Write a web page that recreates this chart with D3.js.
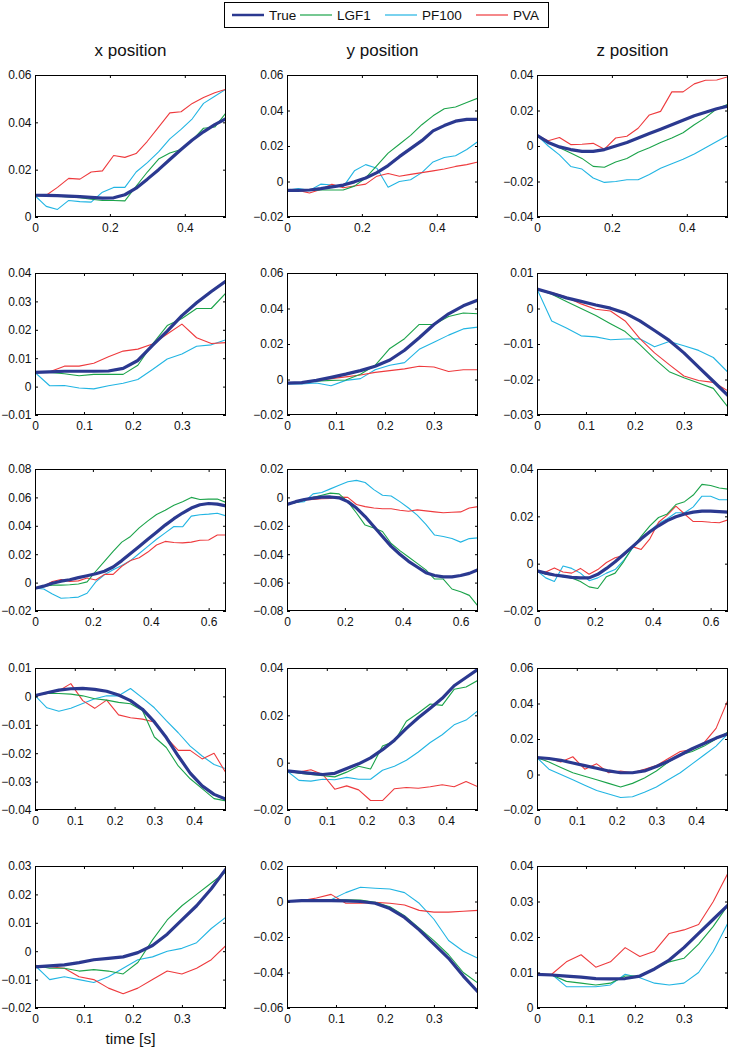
<!DOCTYPE html>
<html>
<head>
<meta charset="utf-8">
<script src="https://cdn.jsdelivr.net/npm/d3@7"></script>
<style>
  body { margin: 0; background: #fff; }
  svg { display: block; font-family: "Liberation Sans", Arial, sans-serif; }
</style>
</head>
<body>
<div id="chart"></div>
<script>
// time grids (s) for each row of panels
const t1 = [0, 0.03, 0.06, 0.09, 0.12, 0.15, 0.18, 0.21, 0.24, 0.27, 0.30, 0.33, 0.36, 0.39, 0.42, 0.45, 0.48, 0.51];
const t2 = [0, 0.03, 0.06, 0.09, 0.12, 0.15, 0.18, 0.21, 0.24, 0.27, 0.30, 0.33, 0.36, 0.39];
const t3 = [0, 0.03, 0.06, 0.09, 0.12, 0.15, 0.18, 0.21, 0.24, 0.27, 0.30, 0.33, 0.36, 0.39, 0.42, 0.45, 0.48, 0.51, 0.54, 0.57, 0.60, 0.63, 0.66];
const t4 = [0, 0.03, 0.06, 0.09, 0.12, 0.15, 0.18, 0.21, 0.24, 0.27, 0.30, 0.33, 0.36, 0.39, 0.42, 0.45, 0.48];
const t5 = [0, 0.03, 0.06, 0.09, 0.12, 0.15, 0.18, 0.21, 0.24, 0.27, 0.30, 0.33, 0.36, 0.39];

const seriesNames = ["True", "LGF1", "PF100", "PVA"];
const columnTitles = ["x position", "y position", "z position"];

// row 1
const r1xTrue = [0.0092, 0.0091, 0.0090, 0.0088, 0.0086, 0.0083, 0.0080, 0.0081, 0.0094, 0.0122, 0.0160, 0.0200, 0.0243, 0.0285, 0.0325, 0.0360, 0.0390, 0.0415];
const r1xLgf = [0.009, 0.009, 0.0088, 0.0085, 0.0082, 0.0075, 0.007, 0.007, 0.0068, 0.013, 0.019, 0.0245, 0.027, 0.0285, 0.0325, 0.0375, 0.038, 0.044];
const r1xPf = [0.009, 0.0045, 0.0032, 0.007, 0.0065, 0.0063, 0.0105, 0.0125, 0.0125, 0.019, 0.023, 0.0275, 0.033, 0.037, 0.0415, 0.048, 0.051, 0.054];
const r1xPva = [0.009, 0.0092, 0.0125, 0.0163, 0.016, 0.019, 0.0195, 0.026, 0.0252, 0.0268, 0.032, 0.038, 0.044, 0.0445, 0.048, 0.0505, 0.0525, 0.054];

const r1yTrue = [-0.005, -0.005, -0.0048, -0.004, -0.003, -0.002, -0.0002, 0.002, 0.005, 0.009, 0.014, 0.0185, 0.023, 0.0285, 0.0315, 0.034, 0.035, 0.035];
const r1yLgf = [-0.005, -0.005, -0.005, -0.0048, -0.0048, -0.0048, -0.0026, 0.002, 0.009, 0.016, 0.021, 0.026, 0.032, 0.037, 0.041, 0.042, 0.0445, 0.047];
const r1yPf = [-0.005, -0.004, -0.005, -0.0015, -0.002, -0.003, 0.006, 0.0095, 0.0075, -0.0032, 0.0, 0.001, 0.005, 0.011, 0.0135, 0.0145, 0.018, 0.0225];
const r1yPva = [-0.005, -0.005, -0.0065, -0.0045, -0.0015, -0.0035, -0.0025, -0.0015, 0.003, 0.0045, 0.003, 0.004, 0.005, 0.006, 0.007, 0.0085, 0.0095, 0.011];

const r1zTrue = [0.006, 0.002, -0.0005, -0.002, -0.003, -0.003, -0.002, 0.0, 0.002, 0.0045, 0.007, 0.0095, 0.012, 0.0145, 0.017, 0.019, 0.021, 0.0225];
const r1zLgf = [0.006, 0.002, -0.001, -0.004, -0.007, -0.0115, -0.012, -0.009, -0.007, -0.0035, -0.001, 0.002, 0.0045, 0.0075, 0.012, 0.016, 0.021, 0.0235];
const r1zPf = [0.006, 0.0, -0.005, -0.0115, -0.013, -0.018, -0.0205, -0.020, -0.019, -0.019, -0.016, -0.0125, -0.010, -0.0075, -0.0045, -0.001, 0.0025, 0.006];
const r1zPva = [0.006, 0.003, 0.0048, 0.0008, 0.001, 0.0015, -0.0018, 0.0045, 0.0055, 0.010, 0.0175, 0.0195, 0.0305, 0.0305, 0.035, 0.037, 0.0372, 0.039];

// row 2
const r2xTrue = [0.005, 0.0052, 0.0054, 0.0054, 0.0054, 0.0055, 0.0064, 0.0092, 0.0145, 0.0195, 0.025, 0.0295, 0.0335, 0.0372];
const r2xLgf = [0.005, 0.005, 0.0045, 0.0038, 0.0043, 0.0043, 0.0043, 0.0075, 0.015, 0.0215, 0.024, 0.0275, 0.0275, 0.033];
const r2xPf = [0.005, 0.0003, 0.0004, -0.0005, -0.0008, 0.0003, 0.0012, 0.0025, 0.006, 0.0097, 0.0115, 0.0142, 0.0147, 0.0165];
const r2xPva = [0.005, 0.0052, 0.0072, 0.0072, 0.0082, 0.0105, 0.0125, 0.0132, 0.015, 0.0185, 0.022, 0.0172, 0.0152, 0.0155];

const r2yTrue = [-0.002, -0.0018, -0.0005, 0.0012, 0.003, 0.005, 0.0075, 0.011, 0.0165, 0.0235, 0.031, 0.037, 0.0415, 0.0448];
const r2yLgf = [-0.002, -0.0018, -0.001, -0.0005, -0.0003, 0.003, 0.008, 0.0175, 0.023, 0.031, 0.031, 0.0355, 0.0375, 0.037];
const r2yPf = [-0.0025, -0.0025, -0.002, -0.0035, -0.0005, 0.0005, 0.0055, 0.008, 0.0095, 0.017, 0.021, 0.025, 0.0285, 0.0295];
const r2yPva = [-0.002, -0.0018, -0.0005, 0.0005, 0.0015, 0.0025, 0.004, 0.005, 0.006, 0.0075, 0.007, 0.0045, 0.0055, 0.0055];

const r2zTrue = [0.0055, 0.0043, 0.003, 0.002, 0.001, 0.0001, -0.0013, -0.0035, -0.0062, -0.009, -0.0125, -0.0165, -0.0205, -0.0245];
const r2zLgf = [0.0055, 0.004, 0.002, 0.0, -0.002, -0.0043, -0.0065, -0.0102, -0.0142, -0.0178, -0.0195, -0.021, -0.0225, -0.0278];
const r2zPf = [0.0055, -0.0035, -0.0055, -0.0077, -0.008, -0.0088, -0.0086, -0.0085, -0.0108, -0.0093, -0.0105, -0.0118, -0.0138, -0.018];
const r2zPva = [0.0055, 0.0045, 0.0032, 0.0013, -0.0002, -0.0007, -0.0035, -0.0085, -0.0125, -0.0158, -0.019, -0.0203, -0.0208, -0.0232];

// row 3
const r3xTrue = [-0.004, -0.0025, -0.0005, 0.001, 0.002, 0.0035, 0.0048, 0.0062, 0.008, 0.011, 0.0155, 0.0205, 0.0255, 0.0305, 0.0355, 0.0405, 0.045, 0.049, 0.0525, 0.0548, 0.0557, 0.0553, 0.054];
const r3xLgf = [-0.004, -0.0025, -0.0018, -0.0018, -0.0015, -0.001, 0.0005, 0.008, 0.015, 0.022, 0.0285, 0.0325, 0.0385, 0.0435, 0.048, 0.051, 0.0545, 0.057, 0.060, 0.0585, 0.0588, 0.0588, 0.0565];
const r3xPf = [-0.004, -0.0045, -0.008, -0.011, -0.0107, -0.0102, -0.0075, 0.0005, 0.0055, 0.009, 0.012, 0.0155, 0.0205, 0.0255, 0.0305, 0.035, 0.0395, 0.0393, 0.0468, 0.0478, 0.0482, 0.0488, 0.047];
const r3xPva = [-0.004, -0.0025, 0.0008, 0.0022, 0.0008, 0.0012, 0.0032, 0.0018, 0.0058, 0.0058, 0.0115, 0.0155, 0.0175, 0.0215, 0.0265, 0.029, 0.0282, 0.028, 0.0285, 0.0298, 0.030, 0.0335, 0.0335];

const r3yTrue = [-0.005, -0.003, -0.0015, -0.0005, 0.0002, 0.0003, -0.0003, -0.003, -0.0075, -0.0135, -0.0205, -0.0275, -0.0345, -0.040, -0.045, -0.049, -0.053, -0.055, -0.056, -0.056, -0.055, -0.0535, -0.051];
const r3yLgf = [-0.005, -0.0035, -0.002, 0.0, 0.0015, 0.003, 0.0025, -0.003, -0.011, -0.0195, -0.0215, -0.024, -0.0325, -0.0375, -0.042, -0.0465, -0.051, -0.0575, -0.0575, -0.0645, -0.0665, -0.069, -0.0765];
const r3yPf = [-0.005, -0.0035, -0.003, 0.0025, 0.0035, 0.006, 0.0085, 0.011, 0.012, 0.0105, 0.0055, 0.0015, 0.001, -0.003, -0.0075, -0.0125, -0.019, -0.0265, -0.0275, -0.029, -0.0315, -0.029, -0.0285];
const r3yPva = [-0.005, -0.0035, -0.0018, -0.0015, -0.001, -0.0008, 0.0002, 0.0, -0.005, -0.0065, -0.0075, -0.008, -0.008, -0.009, -0.0098, -0.0088, -0.0095, -0.0102, -0.0108, -0.0105, -0.0102, -0.0075, -0.0065];

const r3zTrue = [-0.003, -0.004, -0.0048, -0.0053, -0.0058, -0.006, -0.006, -0.0045, -0.002, 0.0008, 0.004, 0.0072, 0.0105, 0.0135, 0.016, 0.0182, 0.0198, 0.021, 0.0218, 0.0222, 0.0222, 0.022, 0.0218];
const r3zLgf = [-0.003, -0.0045, -0.005, -0.0055, -0.006, -0.0075, -0.0098, -0.0105, -0.0055, -0.004, 0.001, 0.0068, 0.0115, 0.016, 0.0195, 0.021, 0.025, 0.0262, 0.029, 0.0335, 0.033, 0.032, 0.0315];
const r3zPf = [-0.003, -0.006, -0.0075, -0.001, -0.002, -0.004, -0.0072, -0.006, -0.004, -0.0025, 0.0015, 0.0065, 0.0105, 0.0138, 0.017, 0.019, 0.0215, 0.0215, 0.024, 0.0285, 0.0285, 0.027, 0.027];
const r3zPva = [-0.003, -0.0035, -0.0018, -0.0035, -0.004, -0.002, -0.0045, -0.0025, 0.0005, 0.0025, 0.0035, 0.0072, 0.006, 0.0105, 0.0175, 0.0205, 0.0243, 0.021, 0.0178, 0.0178, 0.0175, 0.0173, 0.0185];

// row 4
const r4xTrue = [0.0003, 0.0013, 0.0022, 0.0027, 0.0028, 0.0025, 0.0018, 0.0005, -0.0015, -0.0045, -0.009, -0.0145, -0.021, -0.027, -0.0315, -0.0345, -0.0362];
const r4xLgf = [0.0005, 0.001, 0.001, 0.0008, 0.0002, -0.0008, -0.0013, -0.0021, -0.0026, -0.005, -0.0143, -0.018, -0.0245, -0.029, -0.0325, -0.036, -0.0368];
const r4xPf = [0.0003, -0.004, -0.0052, -0.0042, -0.0025, -0.0008, 0.0002, 0.0002, 0.0028, -0.0005, -0.004, -0.0085, -0.0128, -0.0175, -0.021, -0.024, -0.0255];
const r4xPva = [0.0003, 0.001, 0.002, 0.0045, -0.0015, -0.0042, -0.0013, -0.0065, -0.0075, -0.008, -0.009, -0.0145, -0.019, -0.019, -0.022, -0.020, -0.027];

const r4yTrue = [-0.0035, -0.004, -0.0045, -0.005, -0.0045, -0.0025, -0.0005, 0.002, 0.0055, 0.0095, 0.0145, 0.019, 0.023, 0.0272, 0.0325, 0.036, 0.0395];
const r4yLgf = [-0.0035, -0.0045, -0.005, -0.0055, -0.006, -0.004, -0.0015, -0.0027, 0.007, 0.009, 0.0175, 0.021, 0.0248, 0.0242, 0.031, 0.032, 0.0348];
const r4yPf = [-0.0035, -0.0075, -0.0078, -0.007, -0.0072, -0.0062, -0.007, -0.007, -0.0032, -0.0015, 0.001, 0.0045, 0.0085, 0.0118, 0.016, 0.018, 0.022];
const r4yPva = [-0.0035, -0.004, -0.003, -0.005, -0.0112, -0.0098, -0.0115, -0.016, -0.016, -0.011, -0.0105, -0.0108, -0.0102, -0.0093, -0.0102, -0.008, -0.0102];

const r4zTrue = [0.0095, 0.009, 0.008, 0.0065, 0.005, 0.0035, 0.002, 0.001, 0.001, 0.002, 0.0045, 0.0075, 0.011, 0.0145, 0.0175, 0.0205, 0.023];
const r4zLgf = [0.0095, 0.007, 0.004, 0.001, -0.001, -0.003, -0.005, -0.007, -0.005, -0.002, 0.002, 0.007, 0.011, 0.013, 0.016, 0.020, 0.024];
const r4zPf = [0.0095, 0.003, 0.0, -0.003, -0.006, -0.009, -0.011, -0.013, -0.0125, -0.010, -0.007, -0.003, 0.001, 0.006, 0.011, 0.016, 0.023];
const r4zPva = [0.0095, 0.009, 0.007, 0.010, 0.003, 0.006, 0.001, 0.002, 0.001, 0.003, 0.005, 0.009, 0.013, 0.014, 0.018, 0.026, 0.042];

// row 5
const r5xTrue = [-0.0055, -0.0052, -0.0048, -0.004, -0.003, -0.0025, -0.002, -0.0005, 0.002, 0.006, 0.011, 0.016, 0.022, 0.029];
const r5xLgf = [-0.005, -0.006, -0.006, -0.007, -0.0065, -0.007, -0.008, -0.004, 0.004, 0.011, 0.016, 0.020, 0.024, 0.028];
const r5xPf = [-0.005, -0.010, -0.009, -0.010, -0.011, -0.009, -0.006, -0.003, -0.002, 0.0, 0.001, 0.003, 0.008, 0.012];
const r5xPva = [-0.005, -0.0055, -0.006, -0.009, -0.010, -0.013, -0.015, -0.013, -0.010, -0.007, -0.008, -0.006, -0.003, 0.002];

const r5yTrue = [0.0, 0.0005, 0.0005, 0.0005, 0.0003, 0.0, -0.001, -0.004, -0.009, -0.016, -0.024, -0.032, -0.042, -0.051];
const r5yLgf = [0.0, 0.0005, 0.0005, 0.001, 0.001, 0.0008, -0.0005, -0.003, -0.008, -0.015, -0.022, -0.030, -0.040, -0.046];
const r5yPf = [0.0, 0.0, 0.0, 0.001, 0.005, 0.008, 0.0075, 0.007, 0.005, -0.001, -0.010, -0.022, -0.028, -0.032];
const r5yPva = [0.0, 0.0005, 0.002, 0.004, -0.001, -0.001, -0.0005, -0.001, -0.002, -0.005, -0.006, -0.006, -0.0055, -0.005];

const r5zTrue = [0.0095, 0.0093, 0.009, 0.0087, 0.0083, 0.0082, 0.0083, 0.009, 0.011, 0.0135, 0.017, 0.021, 0.025, 0.029];
const r5zLgf = [0.0095, 0.0093, 0.0075, 0.007, 0.0065, 0.007, 0.009, 0.009, 0.011, 0.013, 0.014, 0.018, 0.023, 0.029];
const r5zPf = [0.0095, 0.0095, 0.006, 0.006, 0.006, 0.0065, 0.0095, 0.0085, 0.007, 0.0065, 0.007, 0.010, 0.016, 0.024];
const r5zPva = [0.0095, 0.0095, 0.013, 0.015, 0.0115, 0.013, 0.017, 0.0145, 0.016, 0.021, 0.022, 0.0235, 0.030, 0.038];

// axis ranges and ticks
const rowTimeMax = [0.51, 0.39, 0.66, 0.48, 0.39];
const rowTimeTicks = [[0, 0.2, 0.4], [0, 0.1, 0.2, 0.3], [0, 0.2, 0.4, 0.6], [0, 0.1, 0.2, 0.3, 0.4], [0, 0.1, 0.2, 0.3]];
const yDomains = [
  [[0, 0.06], [-0.02, 0.06], [-0.04, 0.04]],
  [[-0.01, 0.04], [-0.02, 0.06], [-0.03, 0.01]],
  [[-0.02, 0.08], [-0.08, 0.02], [-0.02, 0.04]],
  [[-0.04, 0.01], [-0.02, 0.04], [-0.02, 0.06]],
  [[-0.02, 0.03], [-0.06, 0.02], [0, 0.04]]
];
const yTickSteps = [
  [0.02, 0.02, 0.02],
  [0.01, 0.02, 0.01],
  [0.02, 0.02, 0.02],
  [0.01, 0.02, 0.02],
  [0.01, 0.02, 0.01]
];

const times = [t1, t2, t3, t4, t5];
const panelData = [
  [[r1xTrue, r1xLgf, r1xPf, r1xPva], [r1yTrue, r1yLgf, r1yPf, r1yPva], [r1zTrue, r1zLgf, r1zPf, r1zPva]],
  [[r2xTrue, r2xLgf, r2xPf, r2xPva], [r2yTrue, r2yLgf, r2yPf, r2yPva], [r2zTrue, r2zLgf, r2zPf, r2zPva]],
  [[r3xTrue, r3xLgf, r3xPf, r3xPva], [r3yTrue, r3yLgf, r3yPf, r3yPva], [r3zTrue, r3zLgf, r3zPf, r3zPva]],
  [[r4xTrue, r4xLgf, r4xPf, r4xPva], [r4yTrue, r4yLgf, r4yPf, r4yPva], [r4zTrue, r4zLgf, r4zPf, r4zPva]],
  [[r5xTrue, r5xLgf, r5xPf, r5xPva], [r5yTrue, r5yLgf, r5yPf, r5yPva], [r5zTrue, r5zLgf, r5zPf, r5zPva]]
];

const colors = ["#2b3990", "#1ba34a", "#22b5e3", "#ee3a3d"];
const widths = [3.2, 1.1, 1.1, 1.1];
const drawOrder = [2, 3, 1, 0]; // thick True line on top

const width = 729, height = 1050;
const colLeft = [35, 287, 537], colW = 191;
const rowTop = [75, 273, 469, 668, 866], rowH = 142;
const tickLen = 3;
const font = '"Liberation Sans", Arial, sans-serif';
const tickFont = 12;

const fmt = v => {
  if (Math.abs(v) < 1e-9) return "0";
  const s = d3.format(".2~f")(Math.abs(v));
  return (v < 0 ? "\u2212" : "") + s;
};

const svg = d3.select("#chart").append("svg")
  .attr("width", width)
  .attr("height", height)
  .attr("viewBox", [0, 0, width, height]);

// legend
const legend = svg.append("g");
legend.append("rect")
  .attr("x", 224.5).attr("y", 2.5)
  .attr("width", 324).attr("height", 25)
  .attr("fill", "#fff").attr("stroke", "#000").attr("stroke-width", 1);
const legX = [232, 300, 385, 476];
seriesNames.forEach((name, i) => {
  legend.append("line")
    .attr("x1", legX[i]).attr("x2", legX[i] + 32)
    .attr("y1", 15).attr("y2", 15)
    .attr("stroke", colors[i]).attr("stroke-width", i === 0 ? 2.5 : 1.2);
  legend.append("text")
    .attr("x", legX[i] + 37).attr("y", 19.5)
    .attr("font-size", 13.5).attr("fill", "#111")
    .text(name);
});

// column titles
columnTitles.forEach((t, c) => {
  svg.append("text")
    .attr("x", colLeft[c] + colW / 2).attr("y", 56)
    .attr("text-anchor", "middle")
    .attr("font-size", 17).attr("fill", "#111")
    .text(t);
});

times.forEach((tt, r) => {
  for (let c = 0; c < 3; c++) {
    const x = d3.scaleLinear([0, rowTimeMax[r]], [colLeft[c], colLeft[c] + colW]);
    const y = d3.scaleLinear(yDomains[r][c], [rowTop[r] + rowH, rowTop[r]]);
    const [y0, y1] = yDomains[r][c];
    const step = yTickSteps[r][c];
    const yTicks = d3.range(Math.round((y1 - y0) / step) + 1).map(k => +(y0 + k * step).toFixed(4));

    const g = svg.append("g");

    // clip so lines stay inside the box
    const clipId = `clip-${r}-${c}`;
    g.append("clipPath").attr("id", clipId)
      .append("rect")
      .attr("x", colLeft[c]).attr("y", rowTop[r])
      .attr("width", colW).attr("height", rowH);

    const line = d3.line().x((d, i) => x(tt[i])).y(d => y(d));
    const lines = g.append("g").attr("clip-path", `url(#${clipId})`);
    drawOrder.forEach(s => {
      lines.append("path")
        .attr("d", line(panelData[r][c][s]))
        .attr("fill", "none")
        .attr("stroke", colors[s])
        .attr("stroke-width", widths[s])
        .attr("stroke-linejoin", "round");
    });

    // axes: bottom and left with labels, inward ticks, top/right mirror ticks
    g.append("g")
      .attr("transform", `translate(0,${rowTop[r] + rowH})`)
      .call(d3.axisBottom(x).tickValues(rowTimeTicks[r]).tickFormat(d => d === 0 ? "0" : d3.format(".1f")(d)).tickSizeInner(-tickLen).tickSizeOuter(0).tickPadding(6))
      .attr("font-family", font).attr("font-size", tickFont)
      .call(a => a.select(".domain").remove())
      .call(a => a.selectAll("text").attr("fill", "#111"))
      .call(a => a.selectAll("line").attr("stroke", "#000"));
    g.append("g")
      .attr("transform", `translate(0,${rowTop[r]})`)
      .call(d3.axisTop(x).tickValues(rowTimeTicks[r]).tickFormat("").tickSizeInner(-tickLen).tickSizeOuter(0))
      .call(a => a.select(".domain").remove());
    g.append("g")
      .attr("transform", `translate(${colLeft[c]},0)`)
      .call(d3.axisLeft(y).tickValues(yTicks).tickFormat(fmt).tickSizeInner(-tickLen).tickSizeOuter(0).tickPadding(3.5))
      .attr("font-family", font).attr("font-size", tickFont)
      .call(a => a.select(".domain").remove())
      .call(a => a.selectAll("text").attr("fill", "#111"))
      .call(a => a.selectAll("line").attr("stroke", "#000"));
    g.append("g")
      .attr("transform", `translate(${colLeft[c] + colW},0)`)
      .call(d3.axisRight(y).tickValues(yTicks).tickFormat("").tickSizeInner(-tickLen).tickSizeOuter(0))
      .call(a => a.select(".domain").remove());

    g.append("rect")
      .attr("x", colLeft[c] + 0.5).attr("y", rowTop[r] + 0.5)
      .attr("width", colW - 1).attr("height", rowH - 1)
      .attr("fill", "none").attr("stroke", "#000").attr("stroke-width", 1);
  }
});

// x axis label
svg.append("text")
  .attr("x", colLeft[0] + colW / 2).attr("y", 1044)
  .attr("text-anchor", "middle")
  .attr("font-size", 15.5).attr("fill", "#111")
  .text("time [s]");
</script>
</body>
</html>
